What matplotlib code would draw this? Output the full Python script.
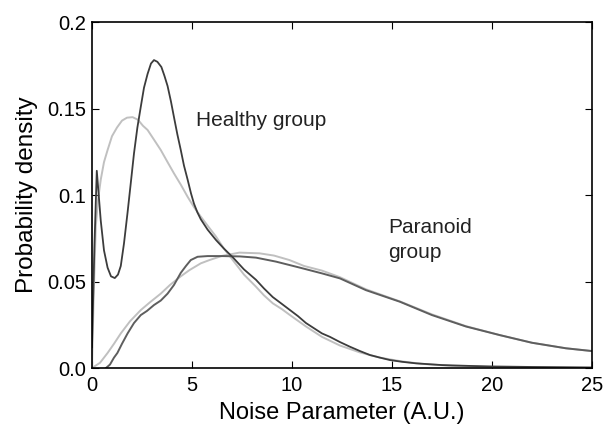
import matplotlib
matplotlib.use("Agg")
import matplotlib.pyplot as plt

plt.rcParams['font.family'] = ['Liberation Sans', 'DejaVu Sans']

# healthy group, empirical density (dark)
healthy_x = [0.0, 0.12, 0.24, 0.35, 0.44, 0.6, 0.78, 0.95, 1.14, 1.3, 1.44, 1.6, 1.78, 1.95,
             2.1, 2.27, 2.44, 2.6, 2.78, 2.95, 3.1, 3.27, 3.47, 3.62, 3.78, 3.95, 4.1, 4.27,
             4.44, 4.6, 4.78, 4.95, 5.1, 5.27, 5.44, 5.78, 6.2, 6.6, 7.04, 7.6, 8.2, 8.6,
             9.04, 9.5, 9.9, 10.3, 10.7, 11.1, 11.5, 11.9, 12.4, 12.9, 13.4, 13.9, 14.4,
             14.9, 15.5, 16.2, 17.5, 18.9, 20.0, 22.0, 25.0]
healthy_y = [0.012, 0.07, 0.114, 0.098, 0.085, 0.068, 0.058, 0.053, 0.052, 0.054, 0.059, 0.072,
             0.090, 0.108, 0.124, 0.139, 0.151, 0.162, 0.170, 0.176, 0.178, 0.177, 0.174, 0.169,
             0.163, 0.154, 0.145, 0.135, 0.126, 0.117, 0.109, 0.101, 0.095, 0.090, 0.086, 0.080,
             0.074, 0.069, 0.064, 0.057, 0.051, 0.046, 0.041, 0.037, 0.0335, 0.030, 0.026, 0.023,
             0.020, 0.018, 0.015, 0.0123, 0.0098, 0.0075, 0.006, 0.0046, 0.0036, 0.0027, 0.0017,
             0.0012, 0.0009, 0.0006, 0.0003]

# healthy group, fitted density (light)
healthy_fit_x = [0.0, 0.08, 0.19, 0.3, 0.44, 0.6, 0.78, 1.0, 1.25, 1.5, 1.75, 2.03, 2.3, 2.55,
                 2.78, 3.1, 3.44, 3.78, 4.1, 4.44, 4.78, 5.1, 5.44, 5.8, 6.2, 6.6, 7.04, 7.6,
                 8.2, 8.6, 9.04, 9.5, 9.9, 10.7, 11.5, 12.4, 13.4, 14.4, 15.5, 16.5, 18.0,
                 20.0, 25.0]
healthy_fit_y = [0.0, 0.04, 0.082, 0.097, 0.109, 0.119, 0.126, 0.134, 0.139, 0.143, 0.1447, 0.145,
                 0.1435, 0.140, 0.1376, 0.132, 0.126, 0.119, 0.1125, 0.106, 0.099, 0.093, 0.0875,
                 0.082, 0.076, 0.069, 0.0624, 0.054, 0.047, 0.042, 0.0374, 0.034, 0.0306, 0.024,
                 0.018, 0.013, 0.009, 0.006, 0.0038, 0.0024, 0.0012, 0.0005, 0.0001]

# paranoid group, empirical density (mid grey)
paranoid_x = [0.7, 0.9, 1.1, 1.27, 1.5, 1.78, 2.1, 2.44, 2.75, 3.1, 3.44, 3.78, 4.1, 4.44, 4.7,
              4.94, 5.28, 5.78, 6.54, 7.4, 8.2, 9.2, 10.4, 11.5, 12.4, 13.7, 15.4, 17.0, 18.7,
              20.4, 22.0, 23.7, 25.0]
paranoid_y = [0.0, 0.002, 0.006, 0.0087, 0.014, 0.020, 0.026, 0.0306, 0.033, 0.0364, 0.039,
              0.043, 0.048, 0.055, 0.059, 0.0624, 0.0643, 0.0647, 0.0647, 0.0645, 0.0638, 0.0615,
              0.058, 0.0547, 0.0518, 0.045, 0.0383, 0.0306, 0.024, 0.019, 0.0146, 0.0114, 0.0098]

# paranoid group, fitted density (light)
paranoid_fit_x = [0.0, 0.4, 0.78, 1.1, 1.44, 1.9, 2.44, 2.9, 3.44, 3.9, 4.44, 4.875, 5.44, 5.875,
                  6.5, 7.375, 8.375, 9.1, 9.875, 10.6, 11.5, 12.4, 13.7, 15.4, 17.0, 18.7, 20.4,
                  22.0, 23.7, 25.0]
paranoid_fit_y = [0.0, 0.003, 0.0087, 0.014, 0.020, 0.027, 0.0335, 0.038, 0.043, 0.048, 0.053,
                  0.0566, 0.0605, 0.0624, 0.0648, 0.0667, 0.0663, 0.065, 0.0624, 0.059, 0.0563,
                  0.0525, 0.0455, 0.0385, 0.031, 0.0242, 0.019, 0.0146, 0.0114, 0.0098]

x_ticks = [0, 5, 10, 15, 20, 25]
y_ticks = [0.0, 0.05, 0.1, 0.15, 0.2]
y_tick_labels = ['0.0', '0.05', '0.1', '0.15', '0.2']

fig = plt.figure(figsize=(6.04, 4.25), dpi=100)
ax = fig.add_axes([0.1523, 0.1341, 0.8277, 0.8141])

ax.plot(healthy_fit_x, healthy_fit_y, color='#c0c0c0', lw=1.4)
ax.plot(paranoid_fit_x, paranoid_fit_y, color='#c0c0c0', lw=1.4)
ax.plot(paranoid_x, paranoid_y, color='#5e5e5e', lw=1.4)
ax.plot(healthy_x, healthy_y, color='#3c3c3c', lw=1.3)

ax.text(5.2, 0.143, 'Healthy group', fontsize=15, va='center', ha='left', color='#222222')
ax.text(14.8, 0.087, 'Paranoid\ngroup', fontsize=15, va='top', ha='left',
        color='#222222', linespacing=1.45)

ax.set_xlim(0, 25)
ax.set_ylim(0, 0.2)
ax.set_xticks(x_ticks)
ax.set_yticks(y_ticks)
ax.set_yticklabels(y_tick_labels)
ax.tick_params(direction='in', top=True, right=True, length=5, width=0.8,
               labelsize=14.5)
ax.tick_params(axis='x', pad=6)
ax.tick_params(axis='y', pad=4)
for s in ax.spines.values():
    s.set_linewidth(1.2)

ax.set_xlabel('Noise Parameter (A.U.)', fontsize=17, labelpad=5)
ax.set_ylabel('Probability density', fontsize=17.5, labelpad=7)

fig.savefig('out.png', dpi=100)
